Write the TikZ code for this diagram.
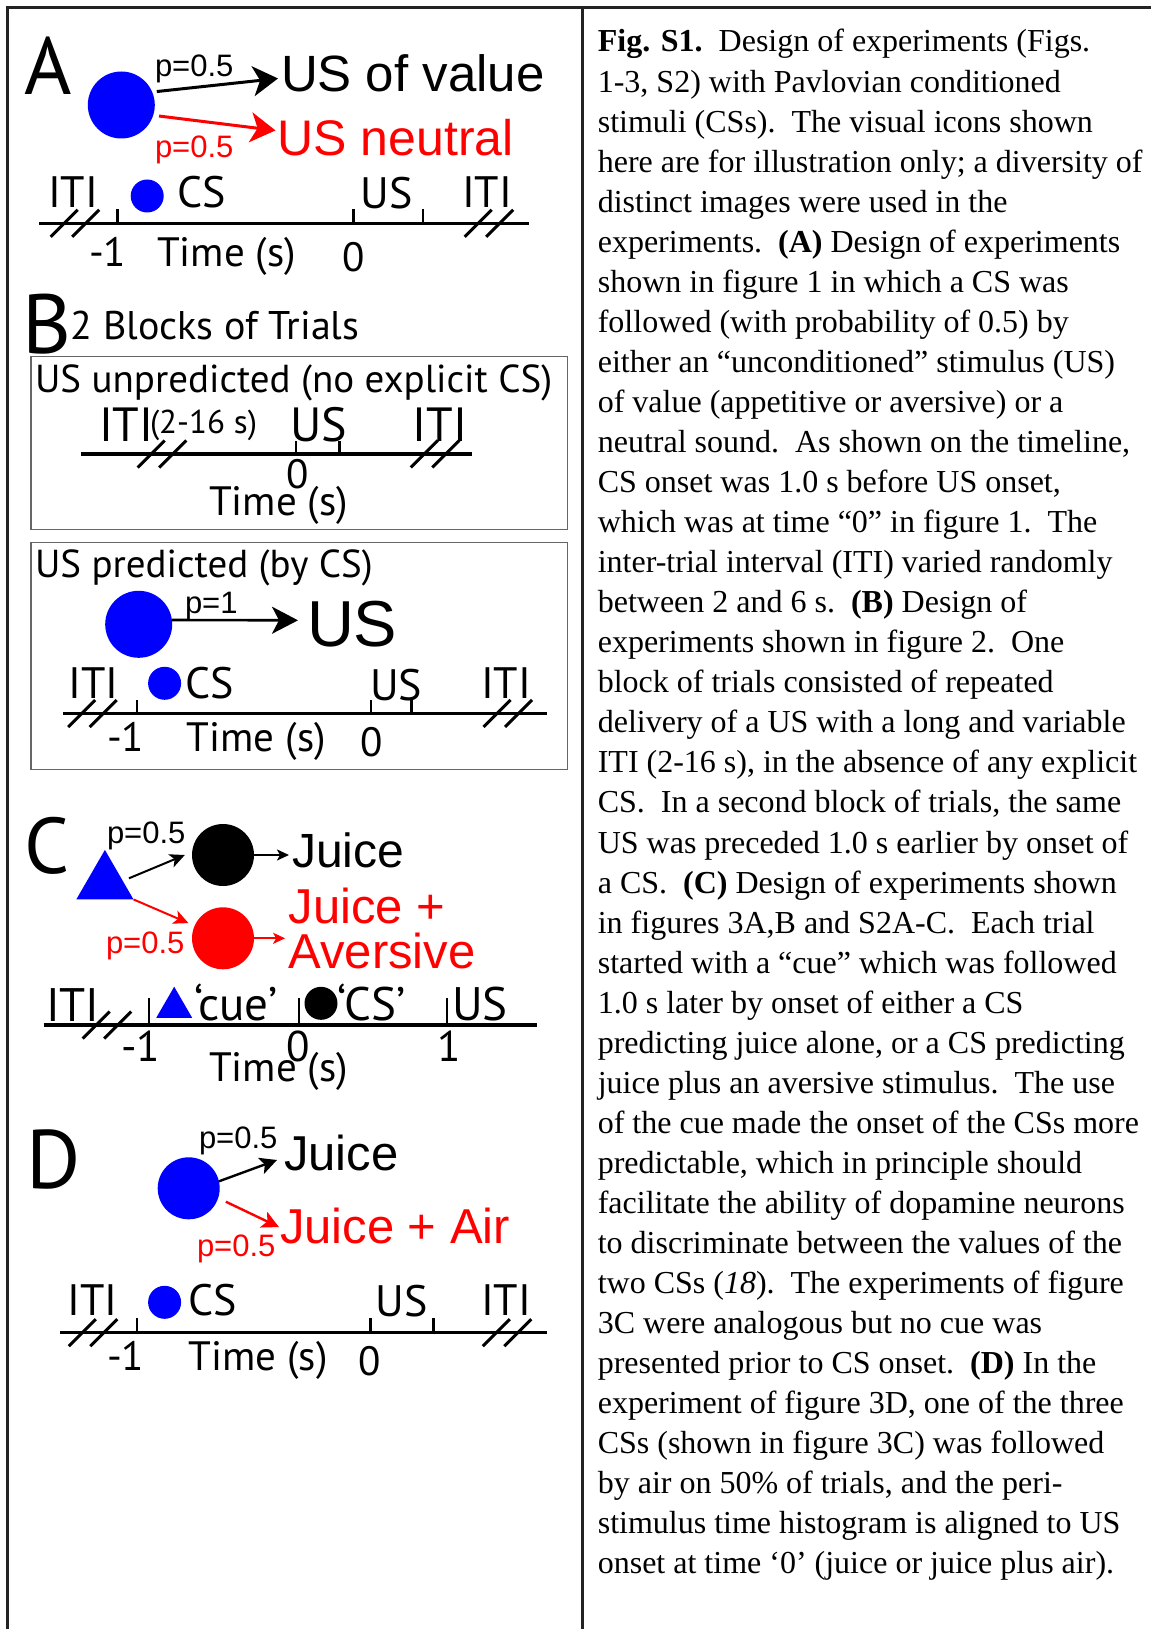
\documentclass[tikz,border=0pt]{standalone}
\usepackage{fontspec}
\setmainfont{Liberation Serif}
\newfontfamily\myr{PT Sans}
\newfontfamily\ari{Liberation Sans}
\usetikzlibrary{arrows.meta,shapes.geometric}
\definecolor{cblue}{RGB}{0,0,255}
\definecolor{cred}{RGB}{255,0,0}
\definecolor{framegray}{RGB}{35,35,35}
\newcommand{\fsz}[1]{\fontsize{#1}{#1}\selectfont}
\newcommand{\brkmark}[2]{%
  \draw[slash] (#1-24.25,#2+13.5) -- ++(27,-27);
  \draw[slash] (#1-2.75,#2+13.5) -- ++(27,-27);}
\tikzset{
  lbl/.style={inner sep=0pt, outer sep=0pt, anchor=base west},
  plabel/.style={lbl, font=\myr\fsz{81}},
  itxt/.style={lbl, font=\myr\fsz{44}},
  ntxt/.style={lbl, font=\myr\fsz{41}},
  ptxt/.style={lbl, font=\ari\fsz{31}},
  btxt/.style={lbl, font=\ari\fsz{50}},
  captxt/.style={lbl, font=\fsz{32}},
  dot/.style={circle, fill=cblue, inner sep=0pt, outer sep=0pt},
  tri/.style={regular polygon, regular polygon sides=3, fill=cblue, inner sep=0pt, outer sep=0pt},
  tline/.style={line width=3.3pt},
  tick/.style={line width=2.5pt},
  slash/.style={line width=3pt},
  panelbox/.style={draw=black!60, line width=1.2pt},
  border/.style={draw=framegray, line width=3pt},
  arrA/.style={-{Stealth[length=25pt,width=30pt,inset=7pt]}, line width=3pt},
  arrB/.style={-{Stealth[length=26pt,width=27pt,inset=7pt]}, line width=2.6pt},
  arrC/.style={-{Stealth[length=15pt,width=14pt,inset=4pt]}, line width=2pt},
  arrCs/.style={-{Stealth[length=12pt,width=11pt,inset=3pt]}, line width=2pt},
  arrD/.style={-{Stealth[length=17pt,width=17pt,inset=4pt]}, line width=2.4pt}
}
\begin{document}
\begin{tikzpicture}[x=1pt, y=-1pt]
\useasboundingbox (0,0) rectangle (1151,1629);
\draw[border] (7,1629) -- (7,8) -- (1151,8);
\draw[border] (582,8) -- (582,1629);

\node[plabel] (labA) at (24,95) {A};
\node[dot, minimum size=67pt] (bigA) at (121.3,105) {};
\node[ptxt] (pA1) at (155,77) {p=0.5};
\node[btxt, font=\ari\fsz{51}] (usval) at (281,91.7) {US of value};
\node[ptxt, text=cred] (pA2) at (155,157.5) {p=0.5};
\node[btxt, text=cred] (usneu) at (277.5,156) {US neutral};
\draw[arrA] ([xshift=4pt,yshift=2pt]bigA.20) -- ([xshift=-3pt,yshift=-5pt]usval.west);
\draw[arrA, color=cred] ([xshift=5.5pt,yshift=-1.8pt]bigA.-16) -- ([xshift=-2pt,yshift=7.7pt]usneu.west);
\draw[tline] (39,223.3) -- (529,223.3);
\foreach \x in {117.6,353.3,422.9} \draw[tick] (\x,223.3) -- ++(0,-14);
\brkmark{75}{223.3} \brkmark{489}{223.3}
\node[dot, minimum size=33pt] (csA) at (147.2,196) {};
\node[itxt] (itiA1) at (48,208) {ITI};
\node[itxt] (csAt) at (177.6,208) {CS};
\node[itxt] (usA) at (360.7,209) {US};
\node[itxt] (itiA2) at (462,208) {ITI};
\node[ntxt] (minA) at (89,266) {-1};
\node[ntxt] (timeA) at (157,266) {Time (s)};
\node[ntxt] (zeroA) at (342,271) {0};

\node[plabel, font=\myr\fsz{84}] (labB) at (22,353) {B};
\node[lbl, font=\myr\fsz{40}] (blocks) at (70.6,339.5) {2 Blocks of Trials};
\draw[panelbox] (31,356.3) rectangle (567.7,529.8);
\node[lbl, font=\myr\fsz{39}] (unpred) at (35,392.7) {US unpredicted (no explicit CS)};
\node[lbl, font=\myr\fsz{48}] (itiB1) at (99,441.5) {ITI};
\node[lbl, font=\myr\fsz{33}] (rangeB) at (150,433) {(2-16 s)};
\node[lbl, font=\myr\fsz{48}] (usB1) at (290,441.5) {US};
\node[lbl, font=\myr\fsz{48}] (itiB2) at (412.5,441.5) {ITI};
\draw[tline] (80.7,454) -- (471.7,454);
\foreach \x in {296,339.6} \draw[tick] (\x,454) -- ++(0,-13.3);
\brkmark{162}{454} \brkmark{435}{454}
\node[ntxt] (zeroB1) at (286.7,488) {0};
\node[ntxt] (timeB1) at (209,515) {Time (s)};

\draw[panelbox] (31,542.3) rectangle (567.7,769.8);
\node[lbl, font=\myr\fsz{39}] (pred) at (35,577.6) {US predicted (by CS)};
\node[dot, minimum size=67pt] (bigB) at (138.7,624.3) {};
\node[ptxt] (pB) at (185,613) {p=1};
\node[lbl, font=\ari\fsz{65}] (usB) at (307,646) {US};
\draw[arrB] ([yshift=4.3pt]bigB.east) -- ([xshift=-9pt,yshift=3.3pt]usB.west);
\draw[tline] (63,713.5) -- (547,713.5);
\foreach \x in {136.9,371,411.4} \draw[tick] (\x,713.5) -- ++(0,-13.3);
\brkmark{92.5}{713.5} \brkmark{507.8}{713.5}
\node[dot, minimum size=33pt] (csB) at (164.6,683.3) {};
\node[itxt] (itiB3) at (68.4,698) {ITI};
\node[itxt] (csBt) at (185,698.3) {CS};
\node[itxt] (usB2) at (370,700) {US};
\node[itxt] (itiB4) at (481,698) {ITI};
\node[ntxt] (minB) at (107,751.7) {-1};
\node[ntxt] (timeB2) at (186.8,751.7) {Time (s)};
\node[ntxt] (zeroB2) at (360.7,756.7) {0};

\node[plabel, font=\myr\fsz{79}] (labC) at (24,873) {C};
\node[tri, minimum size=66pt] (triC) at (104.9,882.9) {};
\node[ptxt] (pC1) at (107,843.5) {p=0.5};
\node[circle, fill=black, inner sep=0pt, minimum size=62pt] (blkC) at (223,855) {};
\node[circle, fill=cred, inner sep=0pt, minimum size=62pt] (redC) at (223,938.3) {};
\node[lbl, font=\ari\fsz{48}] (juiceC) at (292,867) {Juice};
\node[ptxt, text=cred] (pC2) at (106,953) {p=0.5};
\node[lbl, font=\ari\fsz{49}, text=cred] (jplusC) at (288.6,923) {Juice +};
\node[lbl, font=\ari\fsz{49}, text=cred] (aversC) at (288.6,968) {Aversive};
\draw[arrC] ([xshift=5pt,yshift=4.6pt]triC.east) -- ([xshift=-7pt]blkC.west);
\draw[arrC, color=cred] (triC.corner 3) -- ([xshift=-6pt,yshift=2.5pt]redC.156);
\draw[arrCs, shorten >=3pt] (blkC.east) -- (juiceC.west |- blkC.east);
\draw[arrCs, color=cred, shorten >=3.5pt] (redC.east) -- (aversC.west |- redC.east);
\draw[tline] (43.7,1025) -- (537,1025);
\foreach \x in {149,299,447} \draw[line width=2pt] (\x,1025) -- ++(0,-27);
\brkmark{107}{1025}
\node[lbl, font=\myr\fsz{47}] (itiC) at (46,1021.7) {ITI};
\node[tri, minimum size=41.4pt] (cueC) at (174.2,1007.4) {};
\node[lbl, font=\myr\fsz{47}] (cueCt) at (194,1020) {‘cue’};
\node[circle, fill=black, inner sep=0pt, minimum size=33pt] (csC) at (321,1003.3) {};
\node[lbl, font=\myr\fsz{47}] (csCt) at (337.4,1020) {‘CS’};
\node[lbl, font=\myr\fsz{47}] (usC) at (452,1020) {US};
\node[lbl, font=\myr\fsz{43}] (minC) at (121,1061.7) {-1};
\node[lbl, font=\myr\fsz{43}] (zeroC) at (286.7,1061.7) {0};
\node[lbl, font=\myr\fsz{43}] (oneC) at (437,1061.7) {1};
\node[ntxt] (timeC) at (209,1081) {Time (s)};

\node[plabel, font=\myr\fsz{83}] (labD) at (26,1188) {D};
\node[dot, minimum size=62pt] (bigD) at (188.7,1188.3) {};
\node[ptxt] (pD1) at (199,1148) {p=0.5};
\node[lbl, font=\ari\fsz{49}] (juiceD) at (284,1170) {Juice};
\node[ptxt, text=cred] (pD2) at (197,1256) {p=0.5};
\node[lbl, font=\ari\fsz{49}, text=cred] (jaD) at (280,1243.3) {Juice + Air};
\draw[arrD] (bigD.13) -- ([xshift=-7pt,yshift=-7.5pt]juiceD.west);
\draw[arrD, color=cred] ([xshift=8pt,yshift=-2.8pt]bigD.-20) -- ([xshift=-1pt,yshift=-1.3pt]jaD.west);
\draw[tline] (60,1332.7) -- (547,1332.7);
\foreach \x in {136.9,370.7,433.6} \draw[tick] (\x,1332.7) -- ++(0,-14.4);
\brkmark{93}{1332.7} \brkmark{507}{1332.7}
\node[dot, minimum size=33pt] (csD) at (164.6,1302.3) {};
\node[itxt] (itiD1) at (67.3,1315) {ITI};
\node[itxt] (csDt) at (188,1315) {CS};
\node[itxt] (usD) at (375.5,1316.7) {US};
\node[itxt] (itiD2) at (481,1315) {ITI};
\node[ntxt] (minD) at (107,1370) {-1};
\node[ntxt] (timeD) at (188.7,1370) {Time (s)};
\node[ntxt] (zeroD) at (358.9,1375) {0};

\foreach \txt [count=\i from 0] in {
  {\textbf{Fig. S1.}\ \ Design of experiments (Figs.},
  {1-3, S2) with Pavlovian conditioned},
  {stimuli (CSs).\ \ The visual icons shown},
  {here are for illustration only; a diversity of},
  {distinct images were used in the},
  {experiments.\ \ \textbf{(A)} Design of experiments},
  {shown in figure 1 in which a CS was},
  {followed (with probability of 0.5) by},
  {either an “unconditioned” stimulus (US)},
  {of value (appetitive or aversive) or a},
  {neutral sound.\ \ As shown on the timeline,},
  {CS onset was 1.0 s before US onset,},
  {which was at time “0” in figure 1.\ \ The},
  {inter-trial interval (ITI) varied randomly},
  {between 2 and 6 s.\ \ \textbf{(B)} Design of},
  {experiments shown in figure 2.\ \ One},
  {block of trials consisted of repeated},
  {delivery of a US with a long and variable},
  {ITI (2-16 s), in the absence of any explicit},
  {CS.\ \ In a second block of trials, the same},
  {US was preceded 1.0 s earlier by onset of},
  {a CS.\ \ \textbf{(C)} Design of experiments shown},
  {in figures 3A,B and S2A-C.\ \ Each trial},
  {started with a “cue” which was followed},
  {1.0 s later by onset of either a CS},
  {predicting juice alone, or a CS predicting},
  {juice plus an aversive stimulus.\ \ The use},
  {of the cue made the onset of the CSs more},
  {predictable, which in principle should},
  {facilitate the ability of dopamine neurons},
  {to discriminate between the values of the},
  {two CSs (\textit{18}).\ \ The experiments of figure},
  {3C were analogous but no cue was},
  {presented prior to CS onset.\ \ \textbf{(D)} In the},
  {experiment of figure 3D, one of the three},
  {CSs (shown in figure 3C) was followed},
  {by air on 50\% of trials, and the peri-},
  {stimulus time histogram is aligned to US},
  {onset at time ‘0’ (juice or juice plus air).}}
  \node[captxt] (cap\i) at (597.8,52+40.05*\i) {\txt};
\end{tikzpicture}
\end{document}
